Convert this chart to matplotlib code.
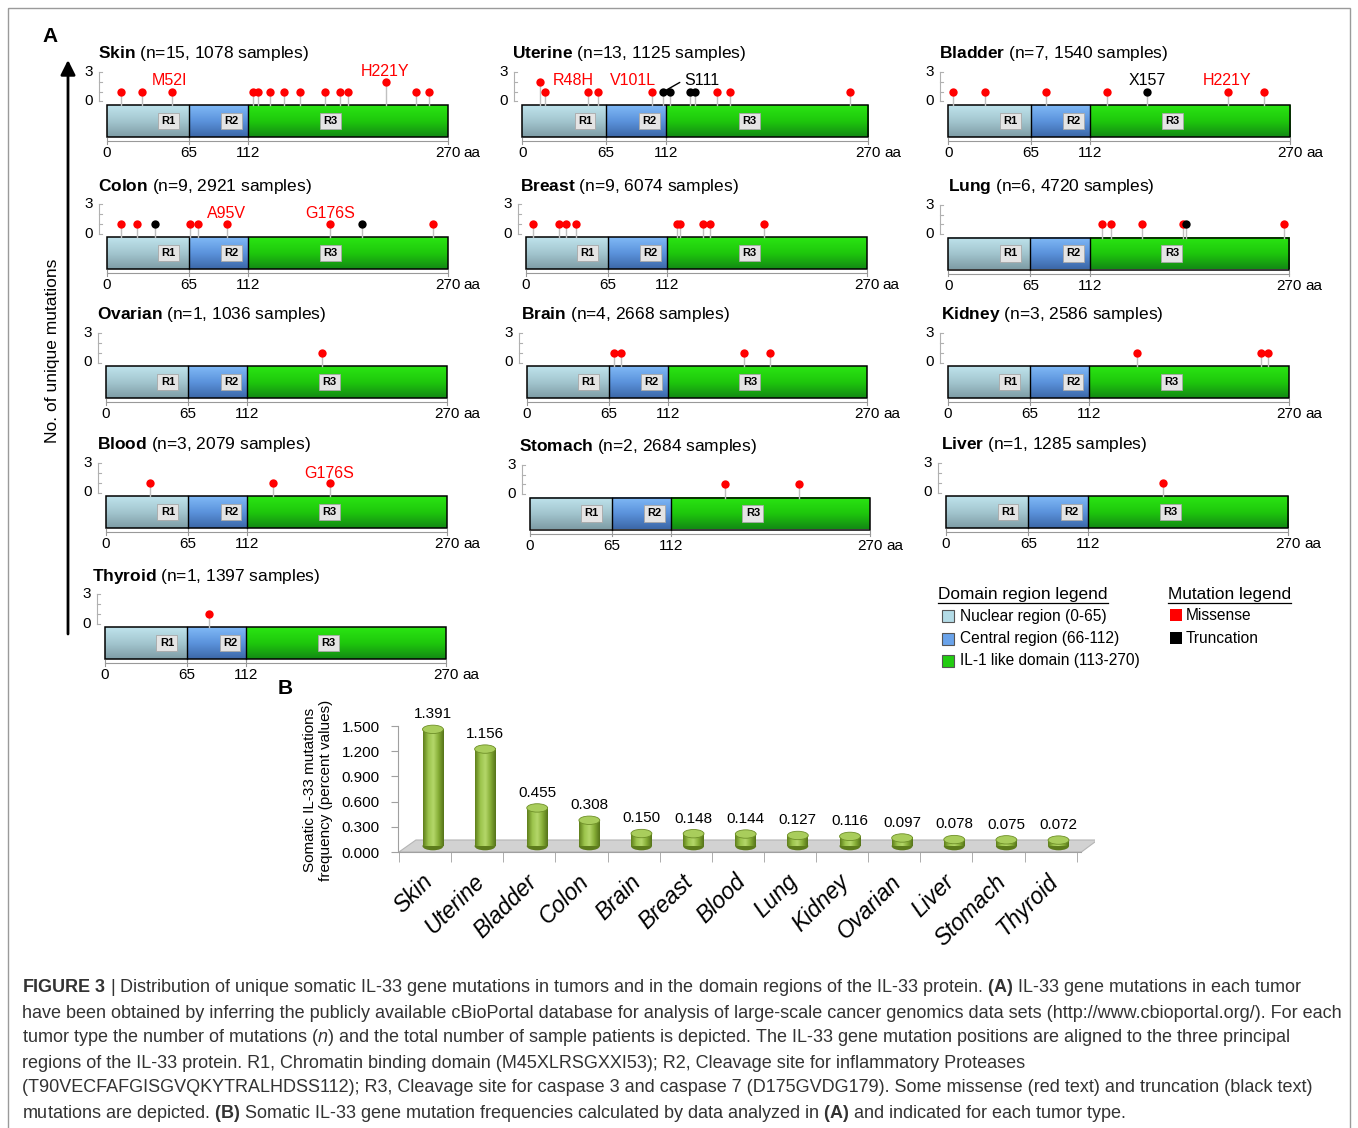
import numpy as np
import matplotlib
matplotlib.use('Agg')
import matplotlib.pyplot as plt
from matplotlib.patches import Rectangle, Ellipse, Polygon
from matplotlib.colors import LinearSegmentedColormap

plt.rcParams['font.family'] = ['Liberation Sans', 'DejaVu Sans']
plt.rcParams['mathtext.fontset'] = 'custom'
plt.rcParams['mathtext.rm'] = 'Liberation Sans'
plt.rcParams['mathtext.it'] = 'Liberation Sans:italic'
plt.rcParams['mathtext.bf'] = 'Liberation Sans:bold'

W, H = 1358, 1128

# ---------------- panel A data ----------------
# mutation positions (aa), number of hits, kind (M = missense, T = truncation)
skin_pos = [11, 28, 52, 116, 120, 129, 140, 153, 173, 185, 191, 221, 245, 255]
skin_cnt = [1, 1, 1, 1, 1, 1, 1, 1, 1, 1, 1, 2, 1, 1]
skin_kind = 'MMMMMMMMMMMMMM'

uterine_pos = [14, 18, 51, 59, 101, 110, 115, 131, 135, 152, 162, 256]
uterine_cnt = [2, 1, 1, 1, 1, 1, 1, 1, 1, 1, 1, 1]
uterine_kind = 'MMMMMTTTTMMM'

bladder_pos = [4, 29, 77, 125, 157, 221, 249]
bladder_cnt = [1, 1, 1, 1, 1, 1, 1]
bladder_kind = 'MMMMTMM'

colon_pos = [11, 24, 38, 66, 72, 95, 177, 202, 258]
colon_cnt = [1, 1, 1, 1, 1, 1, 1, 1, 1]
colon_kind = 'MMTMMMMTM'

breast_pos = [6, 26, 32, 40, 120, 122, 140, 146, 189]
breast_cnt = [1, 1, 1, 1, 1, 1, 1, 1, 1]
breast_kind = 'MMMMMMMMM'

lung_pos = [122, 129, 153, 186, 188, 266]
lung_cnt = [1, 1, 1, 1, 1, 1]
lung_kind = 'MMMMTM'

ovarian_pos, ovarian_cnt, ovarian_kind = [171], [1], 'M'
brain_pos, brain_cnt, brain_kind = [69, 75, 172, 193], [1, 1, 1, 1], 'MMMM'
kidney_pos, kidney_cnt, kidney_kind = [150, 248, 253], [1, 1, 1], 'MMM'
blood_pos, blood_cnt, blood_kind = [35, 132, 177], [1, 1, 1], 'MMM'
stomach_pos, stomach_cnt, stomach_kind = [155, 214], [1, 1], 'MM'
liver_pos, liver_cnt, liver_kind = [171], [1], 'M'
thyroid_pos, thyroid_cnt, thyroid_kind = [82], [1], 'M'

# named mutations: text, x (aa), y (hits), colour, pointer target (aa) or None
skin_labels = [('M52I', 50, 2.2, 'red', None), ('H221Y', 220.5, 3.1, 'red', None)]
uterine_labels = [('R48H', 40, 2.2, 'red', None), ('V101L', 86, 2.2, 'red', None),
                  ('S111', 126, 2.2, 'black', 110)]
bladder_labels = [('X157', 157, 2.2, 'black', None), ('H221Y', 220, 2.2, 'red', None)]
colon_labels = [('A95V', 95, 2.1, 'red', None), ('G176S', 177, 2.1, 'red', None)]
blood_labels = [('G176S', 177, 2.0, 'red', None)]

panel_names = ['Skin', 'Uterine', 'Bladder', 'Colon', 'Breast', 'Lung', 'Ovarian',
               'Brain', 'Kidney', 'Blood', 'Stomach', 'Liver', 'Thyroid']
panel_n = [15, 13, 7, 9, 9, 6, 1, 4, 3, 3, 2, 1, 1]
panel_samples = [1078, 1125, 1540, 2921, 6074, 4720, 1036, 2668, 2586, 2079, 2684, 1285, 1397]

domain_edges = [0, 65, 112, 270]
domain_ticks = [0, 65, 112, 270]
region_names = ['R1', 'R2', 'R3']
region_centers = [49, 99, 177]

# ---------------- panel B data ----------------
bar_tumors = ['Skin', 'Uterine', 'Bladder', 'Colon', 'Brain', 'Breast', 'Blood', 'Lung',
              'Kidney', 'Ovarian', 'Liver', 'Stomach', 'Thyroid']
bar_freq = [1.391, 1.156, 0.455, 0.308, 0.150, 0.148, 0.144, 0.127, 0.116, 0.097, 0.078, 0.075, 0.072]

domain_legend = ['Nuclear region (0-65)', 'Central region (66-112)', 'IL-1 like domain (113-270)']
domain_colors = ['#b3dbe6', '#6aa3ea', '#22cc11']
mutation_legend = ['Missense', 'Truncation']
mutation_colors = ['#ff0000', '#000000']

caption_lines = [
    r'$\mathbf{FIGURE\ 3}$ | Distribution of unique somatic IL-33 gene mutations in tumors and in the domain regions of the IL-33 protein. $\mathbf{(A)}$ IL-33 gene mutations in each tumor',
    'have been obtained by inferring the publicly available cBioPortal database for analysis of large-scale cancer genomics data sets (http://www.cbioportal.org/). For each',
    r'tumor type the number of mutations ($\mathit{n}$) and the total number of sample patients is depicted. The IL-33 gene mutation positions are aligned to the three principal',
    'regions of the IL-33 protein. R1, Chromatin binding domain (M45XLRSGXXI53); R2, Cleavage site for inflammatory Proteases',
    '(T90VECFAFGISGVQKYTRALHDSS112); R3, Cleavage site for caspase 3 and caspase 7 (D175GVDG179). Some missense (red text) and truncation (black text)',
    r'mutations are depicted. $\mathbf{(B)}$ Somatic IL-33 gene mutation frequencies calculated by data analyzed in $\mathbf{(A)}$ and indicated for each tumor type.',
]

# panel placement in pixels: left end of protein bar, bar length, zero line of the hit axis, title shift
panel_layout = [
    (106.7, 341, 101.5, -9), (522.3, 346, 101.5, -10), (948.3, 342, 101.5, -9),
    (106.7, 341, 233.5, -9), (525.7, 341, 233.5, -6), (948.3, 341, 234.0, 0),
    (106.0, 341, 362.5, -9), (527.0, 340, 362.5, -6), (948.0, 341, 362.5, -7),
    (106.0, 341, 492.5, -9), (530.0, 340, 494.0, -11), (946.0, 342, 492.5, -5),
    (105.0, 341, 623.5, -13),
]

fig = plt.figure(figsize=(W / 100, H / 100), dpi=100)

overlay = fig.add_axes([0, 0, 1, 1])
overlay.set_xlim(0, W)
overlay.set_ylim(H, 0)
overlay.axis('off')

# outer frame
overlay.add_patch(Rectangle((8, 8), W - 16, H + 20, fill=False, ec='#9a9a9a', lw=1))

overlay.text(50, 36, 'A', fontsize=15, weight='bold', ha='center', va='center')
overlay.text(285, 688, 'B', fontsize=15, weight='bold', ha='center', va='center')

# vertical arrow of panel A
overlay.annotate('', xy=(68, 60), xytext=(68, 634),
                 arrowprops=dict(arrowstyle='-|>', color='black', lw=2, mutation_scale=22,
                                 shrinkA=0, shrinkB=0))
overlay.text(53, 351, 'No. of unique mutations', rotation=90, fontsize=12.5,
             ha='center', va='center')

# legends
renderer = fig.canvas.get_renderer()
for hx, head in [(938, 'Domain region legend'), (1168, 'Mutation legend')]:
    t = overlay.text(hx, 594, head, fontsize=12.4, ha='left', va='center')
    bb = t.get_window_extent(renderer)
    overlay.plot([hx, hx + bb.width], [603, 603], color='black', lw=0.9)
for i, (lab, col) in enumerate(zip(domain_legend, domain_colors)):
    yc = 616 + i * 22.5
    overlay.add_patch(Rectangle((942, yc - 6), 12, 12, fc=col, ec='#555555', lw=0.8))
    overlay.text(960, yc, lab, fontsize=11.2, ha='left', va='center')
for i, (lab, col) in enumerate(zip(mutation_legend, mutation_colors)):
    yc = 616 + i * 22.5
    overlay.add_patch(Rectangle((1170, yc - 7), 12, 12, fc=col, ec='none'))
    overlay.text(1186, yc, lab, fontsize=11.2, ha='left', va='center')

# caption
for i, line in enumerate(caption_lines):
    overlay.text(22, 988 + i * 25, line, fontsize=13.0, color='#333333', ha='left', va='center')

# ---------------- protein panels ----------------
sy = 9.7  # px per hit

r_cmaps = [
    LinearSegmentedColormap.from_list('r1', ['#bfe3ec', '#a3c6cf', '#7f9da6']),
    LinearSegmentedColormap.from_list('r2', ['#80b9f6', '#5b93dc', '#3c68a8']),
    LinearSegmentedColormap.from_list('r3', ['#2ae512', '#1ec80c', '#138a14']),
]

pos_lists = [skin_pos, uterine_pos, bladder_pos, colon_pos, breast_pos, lung_pos, ovarian_pos,
             brain_pos, kidney_pos, blood_pos, stomach_pos, liver_pos, thyroid_pos]
cnt_lists = [skin_cnt, uterine_cnt, bladder_cnt, colon_cnt, breast_cnt, lung_cnt, ovarian_cnt,
             brain_cnt, kidney_cnt, blood_cnt, stomach_cnt, liver_cnt, thyroid_cnt]
kind_lists = [skin_kind, uterine_kind, bladder_kind, colon_kind, breast_kind, lung_kind, ovarian_kind,
              brain_kind, kidney_kind, blood_kind, stomach_kind, liver_kind, thyroid_kind]
label_lists = [skin_labels, uterine_labels, bladder_labels, colon_labels, [], [], [],
               [], [], blood_labels, [], [], []]

bar_top = -3.5 / sy
bar_bot = -35.5 / sy
scale_y = -39.5 / sy

for k, name in enumerate(panel_names):
    x0, blen, y0, tdx = panel_layout[k]
    sx = blen / 270.0  # px per aa
    lpx, rpx = x0 - 45, x0 + blen + 50
    tpx, bpx = y0 - 58, y0 + 62
    ax = fig.add_axes([lpx / W, 1 - bpx / H, (rpx - lpx) / W, (bpx - tpx) / H])
    ax.axis('off')

    # domain bar with vertical gradients
    grad = np.linspace(0, 1, 60).reshape(-1, 1)
    for j in range(3):
        ax.imshow(grad, extent=[domain_edges[j], domain_edges[j + 1], bar_bot, bar_top],
                  cmap=r_cmaps[j], aspect='auto', origin='upper', interpolation='bilinear', zorder=1)
    ax.add_patch(Rectangle((0, bar_bot), 270, bar_top - bar_bot, fill=False, ec='black', lw=1.1, zorder=2))
    for e in domain_edges[1:3]:
        ax.plot([e, e], [bar_bot, bar_top], color='black', lw=1, zorder=2)
    for rn, rc in zip(region_names, region_centers):
        ax.text(rc, (bar_top + bar_bot) / 2, rn, fontsize=8, weight='bold', ha='center', va='center',
                zorder=3, bbox=dict(boxstyle='square,pad=0.3', fc='#e4e4e4', ec='#a8a8a8', lw=0.6))

    # aa scale under the bar
    ax.plot([0, 270], [scale_y, scale_y], color='#999999', lw=0.8)
    for t in domain_ticks:
        ax.plot([t, t], [scale_y - 0.3, scale_y + 0.3], color='#999999', lw=0.8)
        ax.text(t, -51.5 / sy, str(t), fontsize=11, ha='center', va='center')
    ax.text(270 + 16 / sx, -51.5 / sy, 'aa', fontsize=11, ha='left', va='center')

    # small hit axis
    xa = -8 / sx
    ax.plot([xa, xa], [0, 3], color='#b0b0b0', lw=0.8)
    for v in range(4):
        ax.plot([xa, xa + 3 / sx], [v, v], color='#b0b0b0', lw=0.8)
    ax.text(xa - 6 / sx, 3, '3', fontsize=11, ha='right', va='center')
    ax.text(xa - 6 / sx, 0, '0', fontsize=11, ha='right', va='center')

    # lollipops
    for p, c, kd in zip(pos_lists[k], cnt_lists[k], kind_lists[k]):
        ax.plot([p, p], [bar_top, c], color='#c0c0c0', lw=1, zorder=2)
        ax.plot(p, c, 'o', ms=6, color='#ff0000' if kd == 'M' else 'black', mec='none', zorder=4)

    for txt, lx, ly, col, target in label_lists[k]:
        if target is None:
            ax.text(lx, ly, txt, color=col, fontsize=11.5, ha='center', va='center')
        else:
            ax.annotate(txt, xy=(target, 1), xytext=(lx, ly), color=col, fontsize=11.5,
                        ha='left', va='center',
                        arrowprops=dict(arrowstyle='-', color=col, lw=1, shrinkA=1, shrinkB=0,
                                        relpos=(0, 0.5)))

    ax.text(tdx / sx, 47.5 / sy, r'$\mathbf{%s}$ (n=%d, %d samples)' % (name, panel_n[k], panel_samples[k]),
            fontsize=12.5, ha='left', va='center')

    ax.set_xlim(-45 / sx, 270 + 50 / sx)
    ax.set_ylim(-62 / sy, 58 / sy)

# ---------------- panel B: frequency bars ----------------
axb = fig.add_axes([398 / W, 1 - 852 / H, 697 / W, 136 / H])
x = np.arange(len(bar_tumors))

# 3D-looking floor
axb.add_patch(Polygon([(-0.652, 0), (-0.326, 0.143), (12.75, 0.143), (12.44, 0)],
                      closed=True, fc='#d2d2d2', ec='#b5b5b5', lw=0.8, zorder=1))

cyl_cmap = LinearSegmentedColormap.from_list('cyl', ['#60801c', '#9cc44c', '#b4d76a', '#86ad36', '#56741a'])
base = 0.07
bw = 0.4
hgrad = np.linspace(0, 1, 40).reshape(1, -1)
for xi, v in zip(x, bar_freq):
    axb.add_patch(Ellipse((xi, base), bw, 0.1, fc='#5d7c1c', ec='none', zorder=2))
    axb.imshow(hgrad, extent=[xi - bw / 2, xi + bw / 2, base, base + v], cmap=cyl_cmap,
               aspect='auto', interpolation='bilinear', zorder=3)
    axb.add_patch(Ellipse((xi, base + v), bw, 0.1, fc='#a9cd5c', ec='#6e8f28', lw=0.6, zorder=4))
    axb.text(xi, base + v + 0.18, f'{v:.3f}', fontsize=11, ha='center', va='center')

axb.set_xlim(-0.67, 12.7)
axb.set_ylim(0, 1.62)
# category labels sit a little left of the cylinders (3D depth offset)
axb.set_xticks(x - 0.23)
axb.set_xticklabels(bar_tumors, rotation=45, ha='right', rotation_mode='anchor',
                    style='italic', fontsize=16.5)
axb.set_xticks(np.arange(14) - 0.65, minor=True)
axb.tick_params(axis='x', which='major', length=0, pad=13)
axb.tick_params(axis='x', which='minor', length=7, color='#a0a0a0')
axb.set_yticks(np.arange(0, 1.51, 0.3))
axb.set_yticklabels([f'{v:.3f}' for v in np.arange(0, 1.51, 0.3)], fontsize=11)
axb.tick_params(axis='y', length=5, color='#a0a0a0', pad=8)
for s in ['top', 'right']:
    axb.spines[s].set_visible(False)
for s in ['left', 'bottom']:
    axb.spines[s].set_color('#a0a0a0')
axb.spines['left'].set_bounds(0, 1.5)
axb.spines['bottom'].set_bounds(-0.65, 12.44)
axb.patch.set_alpha(0)

fig.text(318 / W, 1 - 790 / H, 'Somatic IL-33 mutations\nfrequency (percent values)', rotation=90,
         fontsize=11, ha='center', va='center', linespacing=1.1)

fig.savefig('out.png', dpi=100)
